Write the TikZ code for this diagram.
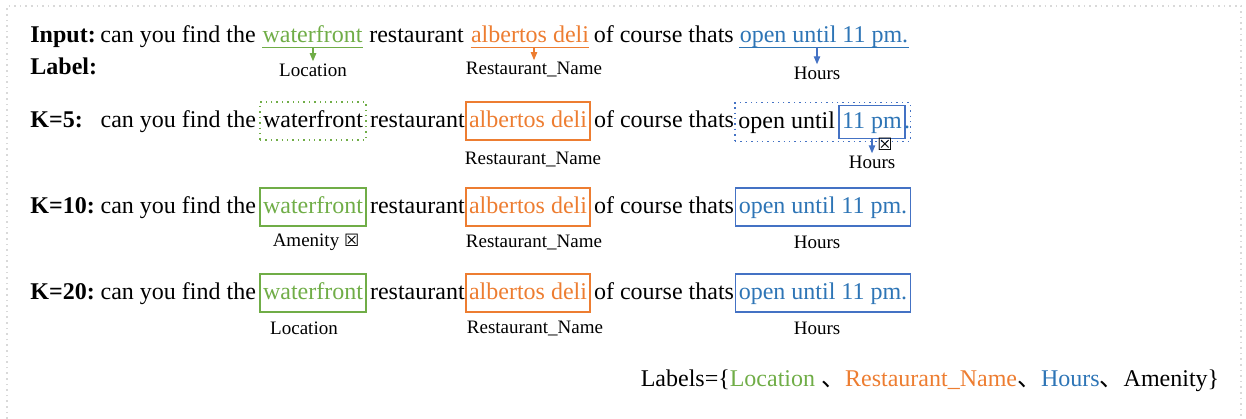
\documentclass[tikz,border=0pt]{standalone}
\usepackage{fontspec}
\setmainfont{Liberation Serif}
\newfontfamily\cjkfont{Noto Sans CJK SC}
\newfontfamily\dvsfont{DejaVu Sans}
\usetikzlibrary{arrows.meta,positioning,fit}

\definecolor{locgreen}{RGB}{112,173,71}
\definecolor{restorange}{RGB}{237,125,49}
\definecolor{hourblue}{RGB}{46,117,182}
\definecolor{arrowblue}{RGB}{68,114,196}
\newcommand{\chkx}{{\dvsfont\fontsize{8.5}{9}\selectfont ☒}}
\newcommand{\cjkcomma}{{\cjkfont 、}}

\begin{document}
\begin{tikzpicture}[x=0.5pt,y=-0.5pt,
    word/.style={font=\fontsize{12}{14}\selectfont, inner xsep=1.5pt, inner ysep=3.5pt, text height=9pt, text depth=3pt},
    ul/.style={word, inner xsep=0pt, inner ysep=0pt, text depth=2.5pt},
    head/.style={anchor=west, inner xsep=0pt, font=\fontsize{12}{14}\selectfont\bfseries},
    tagbox/.style={word, draw, line width=0.7pt},
    lab/.style={font=\fontsize{9.5}{11}\selectfont, inner sep=1pt},
    tip/.style={-{Triangle[length=4pt,width=3.2pt]}, line width=0.6pt}]

                  \useasboundingbox (0,0) rectangle (1246,418);
                  \draw[gray!30, dotted, line width=0.8pt] (7,430) -- (7,6) -- (1241,6) -- (1241,430);

                  % input sentence with the gold labels
                  \node[ul,head] (inp) at (30,35.5) {Input:};
                  \node[ul,text=locgreen] (in-wf) at (312.5,35.5) {waterfront};
                  \node[ul,left=3pt of in-wf] {can you find the};
                  \node[ul,right=3pt of in-wf] {restaurant};
                  \node[ul,text=restorange] (in-ad) at (530,35.5) {albertos deli\ };
                  \node[ul,right=2pt of in-ad] {of course thats};
                  \node[ul,text=hourblue] (in-hr) at (824,35.5) {open until 11 pm.};

                  \draw[locgreen, line width=0.6pt] (in-wf.south west) -- (in-wf.south east);
                  \draw[restorange, line width=0.6pt] (in-ad.south west) -- (in-ad.south east);
                  \draw[hourblue, line width=0.6pt] (in-hr.south west) -- (in-hr.south east);

                  \node[word,head] (lbl) at (30,68) {Label:};
                  \node[lab] (l-loc) at (313,70) {Location};
                  \node[lab] (l-rn) at (534,70) {Restaurant\_Name};
                  \node[lab] (l-hr) at (817,73) {Hours};
                  \draw[tip,locgreen] (l-loc.north |- in-wf.south) -- (l-loc.north);
                  \draw[tip,restorange] (l-rn.north |- in-ad.south) -- (l-rn.north);
                  \draw[tip,arrowblue] (l-hr.north |- in-hr.south) -- (l-hr.north);

                  % K=5
                  \node[word,head] (k5) at (30,121) {K=5:};
                  \node[tagbox, draw=locgreen, dotted] (wf5) at (313,121) {waterfront};
                  \node[word,left=0pt of wf5] {can you find the};
                  \node[word,right=0pt of wf5] {restaurant};
                  \node[tagbox, draw=restorange, text=restorange] (ad5) at (528,121) {albertos deli};
                  \node[word,right=0pt of ad5] {of course thats};
                  \node[tagbox, draw=arrowblue, text=hourblue, inner ysep=2.25pt] (pm5) at (872,122) {11 pm};
                  \node[word,left=0pt of pm5] (ou5) {open until};
                  \node[word,right=-1pt of pm5, inner xsep=0pt, text=hourblue] (dot5) {.};
                  \node[draw=arrowblue, dotted, line width=0.7pt, fit=(ou5)(pm5)(dot5), inner sep=0pt] (hr5) {};

                  \node[lab] (rn5) at (533,159) {Restaurant\_Name};
                  \node[lab] (h5) at (872,162) {Hours};
                  \draw[tip,arrowblue] (pm5.south) -- (pm5.south |- h5.north);
                  \node[inner sep=0pt] (x5) at (885,144) {\chkx};

                  % K=10
                  \node[word,head] (k10) at (30,207) {K=10:};
                  \node[tagbox, draw=locgreen, text=locgreen] (wf10) at (313,207) {waterfront};
                  \node[word,left=0pt of wf10] {can you find the};
                  \node[word,right=0pt of wf10] {restaurant};
                  \node[tagbox, draw=restorange, text=restorange] (ad10) at (528,207) {albertos deli};
                  \node[word,right=0pt of ad10] {of course thats};
                  \node[tagbox, draw=arrowblue, text=hourblue] (hr10) at (823,207) {open until 11 pm.};

                  \node[lab] (am10) at (316,242) {Amenity \chkx};
                  \node[lab] (rn10) at (534,242) {Restaurant\_Name};
                  \node[lab] (h10) at (817,242) {Hours};

                  % K=20
                  \node[word,head] (k20) at (30,293) {K=20:};
                  \node[tagbox, draw=locgreen, text=locgreen] (wf20) at (313,293) {waterfront};
                  \node[word,left=0pt of wf20] {can you find the};
                  \node[word,right=0pt of wf20] {restaurant};
                  \node[tagbox, draw=restorange, text=restorange] (ad20) at (528,293) {albertos deli};
                  \node[word,right=0pt of ad20] {of course thats};
                  \node[tagbox, draw=arrowblue, text=hourblue] (hr20) at (823,293) {open until 11 pm.};

                  \node[lab] (loc20) at (304,328) {Location};
                  \node[lab] (rn20) at (535,328) {Restaurant\_Name};
                  \node[lab] (h20) at (817,328) {Hours};

                  \node[font=\fontsize{12}{14}\selectfont] (legend) at (930,381) {Labels=\{\textcolor{locgreen}{Location} \cjkcomma\textcolor{restorange}{Restaurant\_Name}\cjkcomma\textcolor{hourblue}{Hours}\cjkcomma Amenity\}};

              \end{tikzpicture}
\end{document}
